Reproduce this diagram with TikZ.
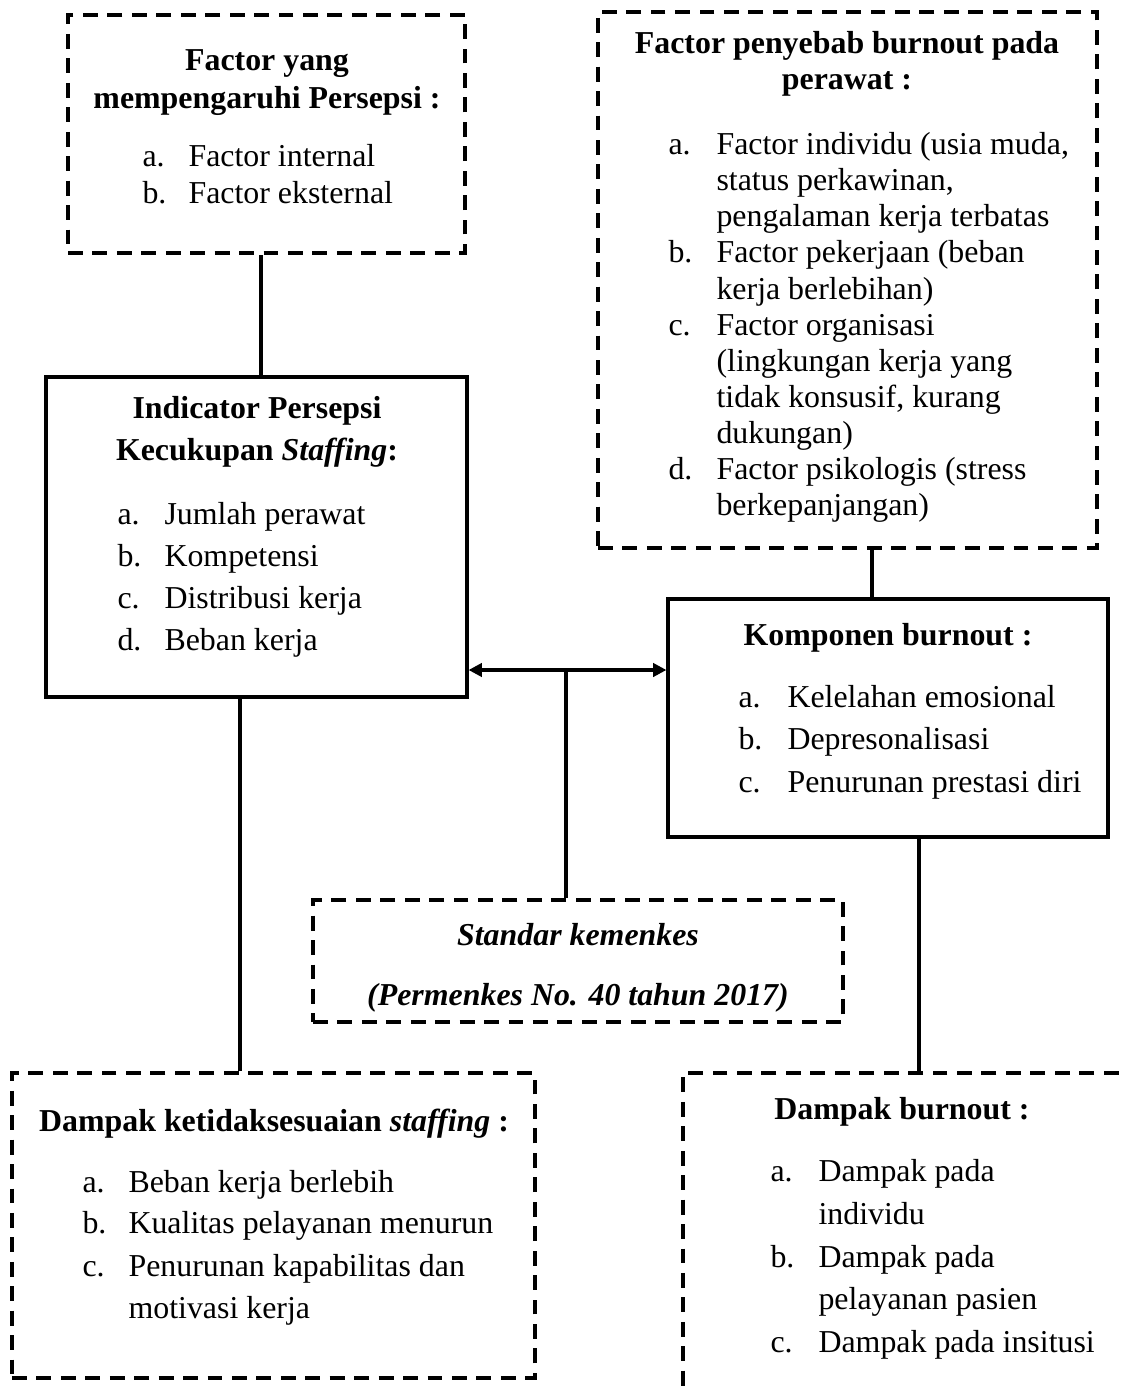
\documentclass[tikz,border=0pt]{standalone}
\usepackage{fontspec}
\setmainfont{Liberation Serif}
\usetikzlibrary{fit,arrows.meta}
\begin{document}
\begin{tikzpicture}[x=0.3764pt,y=-0.3764pt,
  dbox/.style={draw,line width=1.6pt,dash pattern=on 5.6pt off 3.6pt,inner sep=0pt},
  sbox/.style={draw,line width=1.2pt,inner sep=0pt},
  conn/.style={line width=1.2pt},
  txt/.style={font=\fontsize{12pt}{14pt}\selectfont,inner sep=0pt,anchor=base west},
  head/.style={font=\fontsize{12pt}{14pt}\selectfont\bfseries,inner sep=0pt,anchor=base},
  ihead/.style={font=\fontsize{12pt}{14pt}\selectfont\bfseries\itshape,inner sep=0pt,anchor=base},
  dbl/.style={conn,{Triangle[length=5pt,width=5pt]}-{Triangle[length=5pt,width=5pt]}}
]
\useasboundingbox (0,0) rectangle (1120,1393);

% Box 1
\node[dbox, fit={(68,15)(465,253)}] (f1) {};
\node[head] (f1h1) at (267,71) {Factor yang};
\node[head] (f1h2) at (267,109) {mempengaruhi Persepsi :};
\node[txt] (f1la) at (142,167) {a.};
\node[txt] (f1ta) at (188,167) {Factor internal};
\node[txt] (f1lb) at (142,204) {b.};
\node[txt] (f1tb) at (188,204) {Factor eksternal};

% Box 2
\node[sbox, fit={(46,377)(467,697)}] (ind) {};
\node[head] (indh1) at (257,418) {Indicator Persepsi};
\node[head] (indh2) at (257,460) {Kecukupan \textit{Staffing}:};
\node[txt] (indla) at (117,524) {a.};
\node[txt] (indta) at (164,524) {Jumlah perawat};
\node[txt] (indlb) at (117,566) {b.};
\node[txt] (indtb) at (164,566) {Kompetensi};
\node[txt] (indlc) at (117,608) {c.};
\node[txt] (indtc) at (164,608) {Distribusi kerja};
\node[txt] (indld) at (117,650) {d.};
\node[txt] (indtd) at (164,650) {Beban kerja};

% Box 3
\node[dbox, fit={(598,12)(1097,548)}] (f3) {};
\node[head] (f3h1) at (847,54) {Factor penyebab burnout pada};
\node[head] (f3h2) at (847,90) {perawat :};
\node[txt] (f3la) at (668,155) {a.};
\node[txt] (f3ta1) at (716,155) {Factor individu (usia muda,};
\node[txt] (f3ta2) at (716,191) {status perkawinan,};
\node[txt] (f3ta3) at (716,227) {pengalaman kerja terbatas};
\node[txt] (f3lb) at (668,263) {b.};
\node[txt] (f3tb1) at (716,263) {Factor pekerjaan (beban};
\node[txt] (f3tb2) at (716,299) {kerja berlebihan)};
\node[txt] (f3lc) at (668,335) {c.};
\node[txt] (f3tc1) at (716,335) {Factor organisasi};
\node[txt] (f3tc2) at (716,371) {(lingkungan kerja yang};
\node[txt] (f3tc3) at (716,407) {tidak konsusif, kurang};
\node[txt] (f3tc4) at (716,443) {dukungan)};
\node[txt] (f3ld) at (668,479) {d.};
\node[txt] (f3td1) at (716,479) {Factor psikologis (stress};
\node[txt] (f3td2) at (716,515) {berkepanjangan)};

% Box 6 (Komponen)
\node[sbox, fit={(668,599)(1108,837)}] (komp) {};
\node[head] (komph) at (888,645) {Komponen burnout :};
\node[txt] (kompla) at (738,707) {a.};
\node[txt] (kompta) at (787,707) {Kelelahan emosional};
\node[txt] (komplb) at (738,749) {b.};
\node[txt] (komptb) at (787,749) {Depresonalisasi};
\node[txt] (komplc) at (738,792) {c.};
\node[txt] (komptc) at (787,792) {Penurunan prestasi diri};

% Box 4 (Standar)
\node[dbox, fit={(313,900)(843,1022)}] (std) {};
\node[ihead] (stdh1) at (578,945) {Standar kemenkes};
\node[ihead] (stdh2) at (578,1005) {(Permenkes No. 40 tahun 2017)};

% Box 5
\node[dbox, fit={(12,1073)(535,1378)}] (dks) {};
\node[head] (dksh) at (274,1131) {Dampak ketidaksesuaian \textit{staffing} :};
\node[txt] (dksla) at (82,1192) {a.};
\node[txt] (dksta) at (128,1192) {Beban kerja berlebih};
\node[txt] (dkslb) at (82,1233) {b.};
\node[txt] (dkstb) at (128,1233) {Kualitas pelayanan menurun};
\node[txt] (dkslc) at (82,1276) {c.};
\node[txt] (dkstc1) at (128,1276) {Penurunan kapabilitas dan};
\node[txt] (dkstc2) at (128,1318) {motivasi kerja};

% Box 8 (Dampak burnout), cut off by the page edge
\begin{scope}
\clip (0,0) rectangle (1120,1393);
\node[dbox, fit={(683,1073)(1150,1430)}] (db) {};
\end{scope}
\node[head] (dbh) at (902,1119) {Dampak burnout :};
\node[txt] (dbla) at (770,1181) {a.};
\node[txt] (dbta1) at (818,1181) {Dampak pada};
\node[txt] (dbta2) at (818,1224) {individu};
\node[txt] (dblb) at (770,1267) {b.};
\node[txt] (dbtb1) at (818,1267) {Dampak pada};
\node[txt] (dbtb2) at (818,1309) {pelayanan pasien};
\node[txt] (dblc) at (770,1352) {c.};
\node[txt] (dbtc) at (818,1352) {Dampak pada insitusi};

% Connectors
\draw[conn] (f1.south -| 261,0) -- (ind.north -| 261,0);
\draw[conn] (f3.south -| 872,0) -- (komp.north -| 872,0);
\draw[dbl] (ind.east |- 0,670) -- (komp.west |- 0,670);
\coordinate (mid) at (566,670);
\draw[conn] (mid) -- (std.north -| mid);
\draw[conn] (ind.south -| 240,0) -- (dks.north -| 240,0);
\draw[conn] (komp.south -| 919,0) -- (db.north -| 919,0);
\end{tikzpicture}
\end{document}
